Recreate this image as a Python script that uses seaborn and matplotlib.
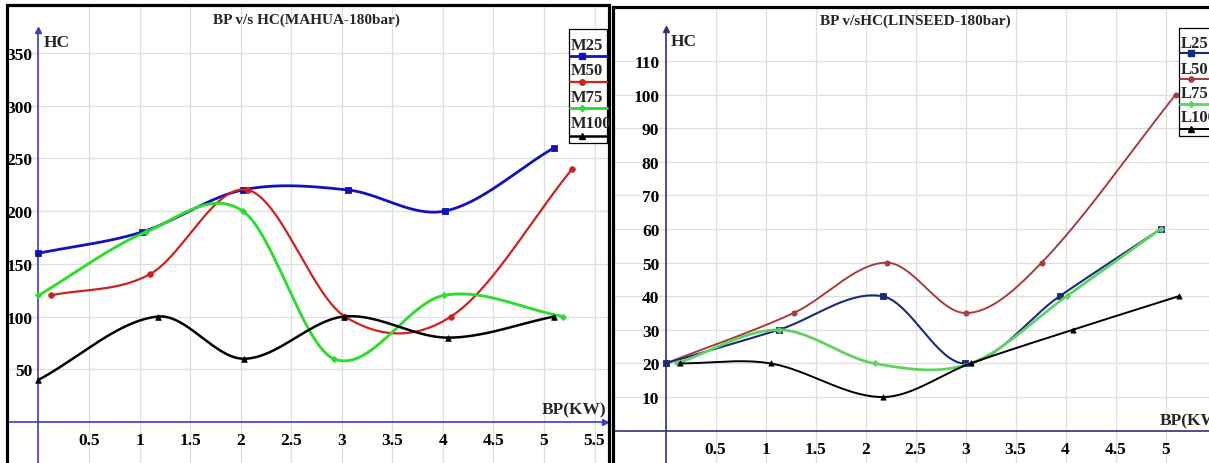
import numpy as np
import pandas as pd
import matplotlib
matplotlib.use("Agg")
import matplotlib.pyplot as plt
import seaborn as sns
from matplotlib.patches import Rectangle
from matplotlib.lines import Line2D

# ---------------- data ----------------
left_title = "BP v/s HC(MAHUA-180bar)"
right_title = "BP v/sHC(LINSEED-180bar)"
y_label = "HC"
x_label = "BP(KW)"

left_names = ["M25", "M50", "M75", "M100"]
M25_x = [0.00, 1.02, 2.02, 3.06, 4.02, 5.10]
M25_y = [160, 180, 220, 220, 200, 260]
M50_x = [0.12, 1.10, 2.07, 3.03, 4.08, 5.28]
M50_y = [120, 140, 220, 100, 100, 240]
M75_x = [0.00, 1.06, 2.02, 2.92, 4.01, 5.19]
M75_y = [120, 180, 200, 60, 120, 100]
M100_x = [0.00, 1.18, 2.03, 3.02, 4.05, 5.10]
M100_y = [40, 100, 60, 100, 80, 100]

right_names = ["L25", "L50", "L75", "L100"]
L25_x = [0.00, 1.13, 2.17, 2.99, 3.94, 4.95]
L25_y = [20, 30, 40, 20, 40, 60]
L50_x = [0.00, 1.28, 2.21, 3.00, 3.76, 5.10]
L50_y = [20, 35, 50, 35, 50, 100]
L75_x = [0.11, 1.13, 2.09, 3.05, 4.01, 4.95]
L75_y = [20, 30, 20, 20, 40, 60]
L100_x = [0.14, 1.05, 2.17, 3.05, 4.07, 5.13]
L100_y = [20, 20, 10, 20, 30, 40]

left_xticks = [0.5, 1, 1.5, 2, 2.5, 3, 3.5, 4, 4.5, 5, 5.5]
left_xticklabels = ["0.5", "1", "1.5", "2", "2.5", "3", "3.5", "4", "4.5", "5", "5.5"]
left_yticks = [50, 100, 150, 200, 250, 300, 350]
right_xticks = [0.5, 1, 1.5, 2, 2.5, 3, 3.5, 4, 4.5, 5]
right_xticklabels = ["0.5", "1", "1.5", "2", "2.5", "3", "3.5", "4", "4.5", "5"]
right_yticks = [10, 20, 30, 40, 50, 60, 70, 80, 90, 100, 110]

# ---------------- style ----------------
sns.set_style("white")
plt.rcParams["font.family"] = ["Liberation Serif", "DejaVu Serif"]
plt.rcParams["font.weight"] = "bold"

W, H = 1209, 464
fig = plt.figure(figsize=(W / 100, H / 100), dpi=100)
TICK_FS = 12.5
LAB_FS = 12.5


def fx(x):
    return x / W


def fy(y):
    return 1 - y / H


def axes_px(x0, x1, y0, y1):
    return fig.add_axes([x0 / W, 1 - y1 / H, (x1 - x0) / W, (y1 - y0) / H])


def smooth_curve(x, y, per_seg=60):
    """Cubic Hermite curve through the points (Catmull-Rom style tangents)."""
    x = np.asarray(x, float)
    y = np.asarray(y, float)
    n = len(x)
    m = np.zeros(n)
    m[0] = (y[1] - y[0]) / (x[1] - x[0])
    m[-1] = (y[-1] - y[-2]) / (x[-1] - x[-2])
    for i in range(1, n - 1):
        m[i] = (y[i + 1] - y[i - 1]) / (x[i + 1] - x[i - 1])
    xs_all, ys_all = [], []
    for i in range(n - 1):
        h = x[i + 1] - x[i]
        t = np.linspace(0, 1, per_seg)
        h00 = 2 * t ** 3 - 3 * t ** 2 + 1
        h10 = t ** 3 - 2 * t ** 2 + t
        h01 = -2 * t ** 3 + 3 * t ** 2
        h11 = t ** 3 - t ** 2
        xs_all.append(x[i] + t * h)
        ys_all.append(h00 * y[i] + h10 * h * m[i] + h01 * y[i + 1] + h11 * h * m[i + 1])
    return np.concatenate(xs_all), np.concatenate(ys_all)


axL = axes_px(6.5, 609, 6, 480)
axR = axes_px(613, 1218, 7.5, 480)
axL.set_xlim(-0.3165, 5.643)
axL.set_ylim(-54.0, 395.3)
axR.set_xlim(-0.526, 5.524)
axR.set_ylim(-14.4, 126.25)

left_series = [
    (M25_x, M25_y, "#1212b8", "s", 2.0, 18),
    (M50_x, M50_y, "#cc2222", "o", 1.6, 16),
    (M75_x, M75_y, "#2edc2e", "D", 2.1, 10),
    (M100_x, M100_y, "#000000", "^", 1.8, 16),
]
right_series = [
    (L50_x, L50_y, "#a83c3c", "o", 1.4, 14),
    (L25_x, L25_y, "#1c2a78", "s", 1.5, 16),
    (L75_x, L75_y, "#5fd35f", "D", 2.0, 9),
    (L100_x, L100_y, "#000000", "^", 1.4, 14),
]


def draw_panel(ax, series, axcol, xticks, xlabels, yticks, arrow_y, arrow_x):
    ax.set_facecolor("white")
    ax.grid(True, color="#dedede", lw=0.9)
    ax.set_axisbelow(True)
    for z, (x, y, c, m, lw, s) in enumerate(series):
        xs, ys = smooth_curve(x, y)
        sns.lineplot(x=xs, y=ys, ax=ax, color=c, lw=lw, sort=False,
                     estimator=None, zorder=3 + z)
        sns.scatterplot(x=x, y=y, ax=ax, color=c, marker=m, s=s,
                        edgecolor=c, linewidth=0.6, zorder=3.5 + z, legend=False)
    ax.set_xlabel("")
    ax.set_ylabel("")
    for sp in ["top", "right"]:
        ax.spines[sp].set_visible(False)
    for sp in ["left", "bottom"]:
        ax.spines[sp].set_position(("data", 0))
        ax.spines[sp].set_color(axcol)
        ax.spines[sp].set_linewidth(1.2)
        ax.spines[sp].set_visible(True)
    ylo = ax.get_ylim()[0]
    xlo, xhi = ax.get_xlim()
    ax.spines["left"].set_bounds(ylo, arrow_y)
    ax.spines["bottom"].set_bounds(xlo, arrow_x if arrow_x is not None else xhi)
    ax.set_xticks(xticks, labels=xlabels)
    ax.set_yticks(yticks, labels=[str(v) for v in yticks])
    ax.tick_params(axis="y", direction="out", length=3, width=1, color=axcol,
                   pad=1.5, labelsize=TICK_FS, labelcolor="black")
    ax.tick_params(axis="x", direction="out", length=3, width=1, color=axcol,
                   pad=4.5, labelsize=TICK_FS, labelcolor="black")
    ax.plot([0], [arrow_y], marker="^", color=axcol, ms=5, clip_on=False, zorder=6)
    if arrow_x is not None:
        ax.plot([arrow_x], [0], marker=">", color=axcol, ms=5, clip_on=False, zorder=6)
    ax.add_patch(Rectangle((0, 0), 1, 1, transform=ax.transAxes, fill=False,
                           lw=2.3, ec="black", clip_on=False, zorder=20))


draw_panel(axL, left_series, "#3c3cc8", left_xticks, left_xticklabels,
           left_yticks, 371.5, 5.60)
draw_panel(axR, right_series, "#2e3472", right_xticks, right_xticklabels,
           right_yticks, 119.5, None)

# titles and axis names
fig.text(fx(306), fy(20), left_title, ha="center", va="center", fontsize=11)
fig.text(fx(915.5), fy(21), right_title, ha="center", va="center", fontsize=11)
fig.text(fx(44), fy(43), y_label, ha="left", va="center", fontsize=LAB_FS)
fig.text(fx(671), fy(42), y_label, ha="left", va="center", fontsize=LAB_FS)
fig.text(fx(606), fy(410), x_label, ha="right", va="center", fontsize=LAB_FS)
fig.text(fx(1160), fy(421), x_label, ha="left", va="center", fontsize=LAB_FS)


# legends (drawn as framed boxes: name above a line with marker)
def draw_legend(names, series, box, text_y, line_y, text_x, line_x0, line_x1, mark_x):
    x0, y0, x1, y1 = box
    fig.add_artist(Rectangle((fx(x0), fy(y1)), (x1 - x0) / W, (y1 - y0) / H,
                             transform=fig.transFigure, fill=True, fc="white",
                             ec="black", lw=0.9, zorder=30))
    for name, (x, y, c, m, lw, s), ty, ly in zip(names, series, text_y, line_y):
        fig.text(fx(text_x), fy(ty), name, ha="left", va="center",
                 fontsize=12, zorder=31)
        fig.add_artist(Line2D([fx(line_x0), fx(line_x1)], [fy(ly), fy(ly)],
                              transform=fig.transFigure, color=c, lw=lw, zorder=31))
        fig.add_artist(Line2D([fx(mark_x)], [fy(ly)], transform=fig.transFigure,
                              color=c, marker=m, ms=np.sqrt(s), lw=0, zorder=32))


draw_legend(left_names, left_series, (569, 30, 607, 144),
            [46.5, 71, 97.5, 124], [57.3, 82.7, 109.3, 136.7],
            570.5, 570, 607, 582)
right_series_order = [right_series[1], right_series[0], right_series[2], right_series[3]]
draw_legend(right_names, right_series_order, (1179, 29, 1240, 137),
            [43.5, 70, 94.5, 118], [54.3, 80, 105.3, 130],
            1180.5, 1180, 1215, 1191)

fig.savefig("out.png", dpi=100)
